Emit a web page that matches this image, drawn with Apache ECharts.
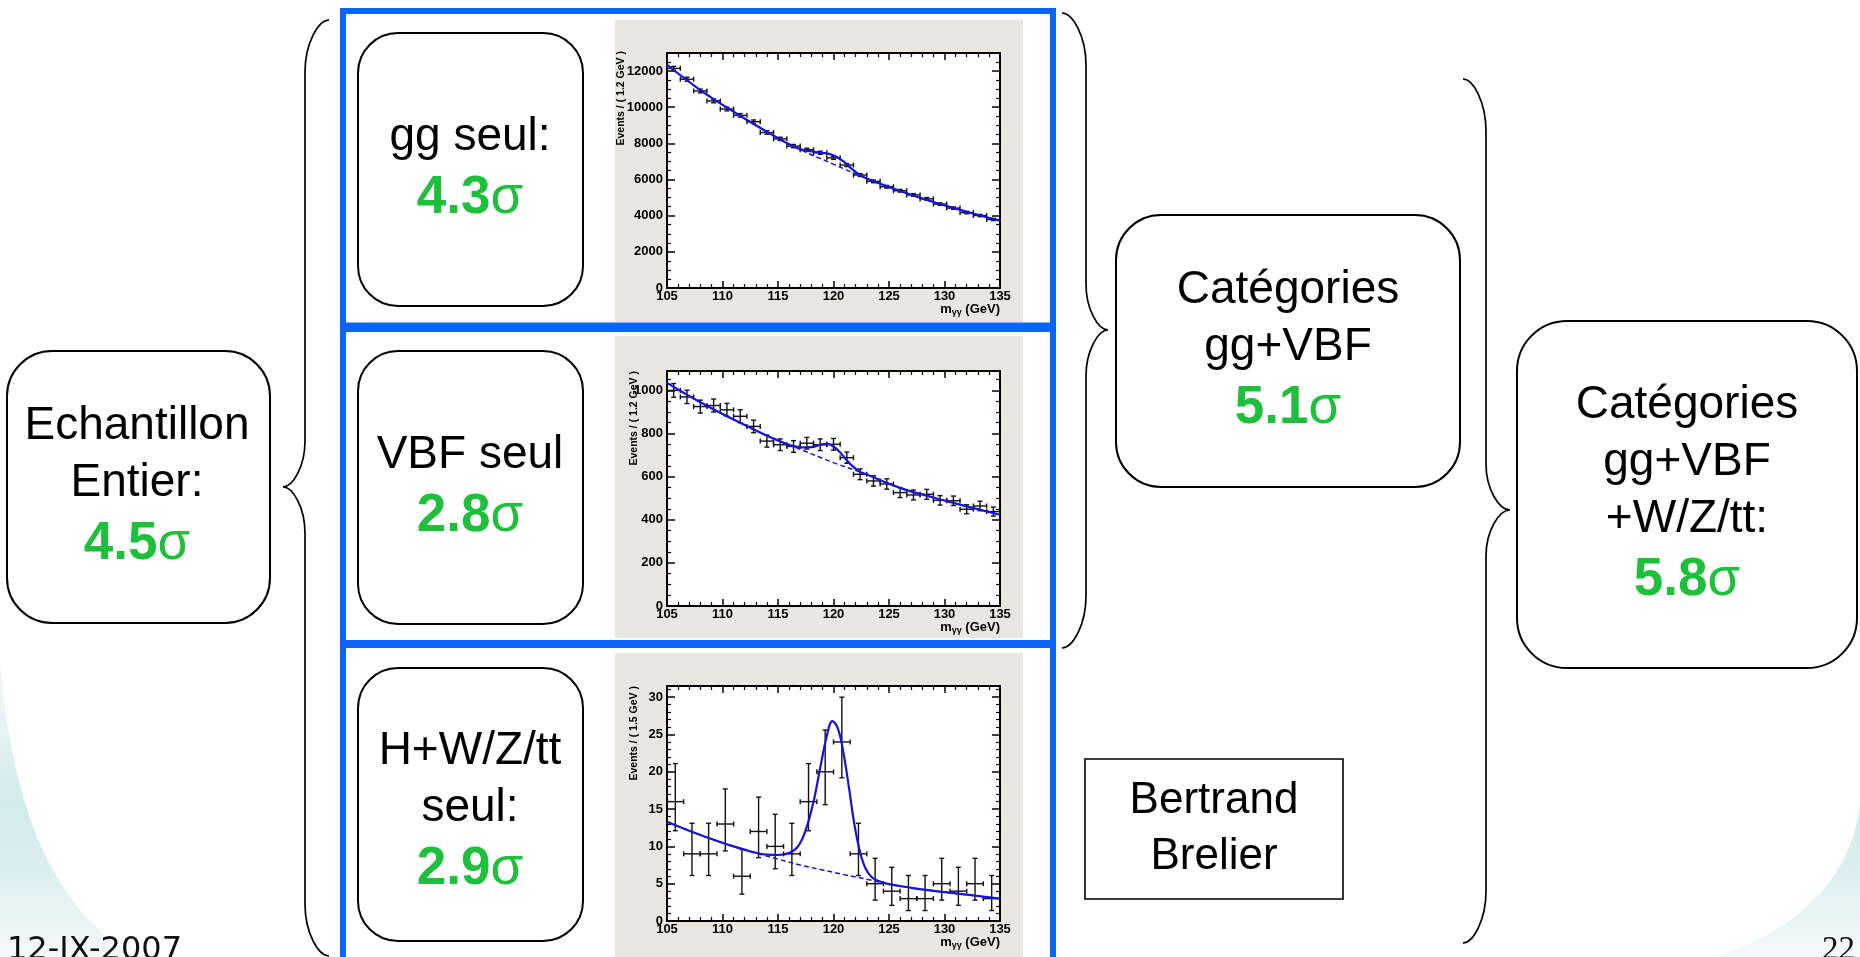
<!DOCTYPE html>
<html>
<head>
<meta charset="utf-8">
<title>Significance H -> gamma gamma</title>
<script src="https://cdn.jsdelivr.net/npm/echarts/dist/echarts.min.js"></script>
<style>
  html, body { margin: 0; padding: 0; background: #fff; overflow: hidden; }
  #main { width: 1860px; height: 957px; }
</style>
</head>
<body>
<div id="main"></div>
<script>
// gg seul : bins de 1.2 GeV
var ggX = [105.6, 106.8, 108.0, 109.2, 110.4, 111.6, 112.8, 114.0, 115.2, 116.4, 117.6, 118.8, 120.0,
           121.2, 122.4, 123.6, 124.8, 126.0, 127.2, 128.4, 129.6, 130.8, 132.0, 133.2, 134.4];
var ggY = [12150, 11550, 10900, 10350, 9900, 9550, 9200, 8600, 8250, 7850, 7650, 7480, 7200,
           6800, 6250, 5900, 5600, 5380, 5150, 4930, 4640, 4420, 4170, 4010, 3790];
var ggErr = [110, 108, 104, 102, 100, 98, 96, 93, 91, 89, 87, 86, 85,
             82, 79, 77, 75, 73, 72, 70, 68, 66, 65, 63, 62];
var ggBkgX = [105, 108, 111, 114, 117, 120, 123, 126, 129, 132, 135];
var ggBkg = [12350, 10950, 9750, 8640, 7660, 6850, 6050, 5370, 4760, 4220, 3720];
var ggTotX = [105, 108, 111, 114, 116, 117, 118, 119, 119.6, 120.3, 121, 121.6, 122.2, 123, 126, 129, 132, 135];
var ggTot = [12350, 10950, 9750, 8640, 7950, 7680, 7560, 7470, 7420, 7250, 6950, 6620, 6330, 6060, 5370, 4760, 4220, 3720];

// VBF seul : bins de 1.2 GeV
var vbfX = ggX.slice();
var vbfY = [1000, 970, 925, 930, 910, 880, 833, 765, 748, 740, 755, 748, 750,
            688, 611, 580, 566, 526, 515, 518, 490, 488, 449, 464, 438];
var vbfErr = [32, 31, 30, 30, 30, 30, 29, 28, 27, 27, 27, 27, 27,
              26, 25, 24, 24, 23, 23, 23, 22, 22, 21, 22, 21];
var vbfBkgX = [105, 108, 111, 114, 117, 120, 123, 126, 129, 132, 135];
var vbfBkg = [1035, 945, 865, 790, 727, 665, 610, 548, 503, 462, 423];
var vbfTotX = [105, 108, 111, 114, 115, 116, 117, 118, 118.8, 119.4, 120, 120.6, 121.2, 121.8, 122.4, 123, 126, 129, 132, 135];
var vbfTot = [1035, 945, 865, 790, 768, 748, 736, 737, 748, 752, 740, 712, 676, 645, 622, 610, 548, 503, 462, 423];

// H+W/Z/tt seul : bins de 1.5 GeV
var ttX = [105.75, 107.25, 108.75, 110.25, 111.75, 113.25, 114.75, 116.25, 117.75, 119.25,
           120.75, 122.25, 123.75, 125.25, 126.75, 128.25, 129.75, 131.25, 132.75, 134.25];
var ttY = [16, 9, 9, 13, 6, 12, 10, 9, 16, 20, 24, 9, 5, 4, 3, 3, 5, 4, 5, 3];
var ttLo = [12.1, 6.1, 6.1, 9.4, 3.6, 8.5, 7.0, 6.1, 12.1, 15.6, 19.2, 6.1, 2.8, 2.1, 1.4, 1.4, 2.8, 2.1, 2.8, 1.4];
var ttHi = [21.1, 13.1, 13.1, 17.7, 9.6, 16.6, 14.3, 13.1, 21.1, 25.6, 30.0, 13.1, 8.4, 7.2, 6.1, 6.1, 8.4, 7.2, 8.4, 6.1];
var ttBkgX = [105, 107, 109, 111, 113, 115, 117, 119, 121, 123, 125, 127, 129, 131, 133, 135];
var ttBkg = [13.3, 12.1, 11.0, 10.0, 9.1, 8.3, 7.5, 6.85, 6.2, 5.6, 4.95, 4.45, 4.05, 3.7, 3.35, 3.0];
var ttTotX = [105, 107, 109, 111, 113, 114, 115, 116, 116.8, 117.5, 118.2, 118.8, 119.4, 119.9, 120.4,
              120.9, 121.4, 121.9, 122.4, 122.9, 123.5, 124.2, 125, 127, 129, 131, 133, 135];
var ttTot = [13.3, 12.1, 11.0, 10.0, 9.15, 8.9, 8.85, 9.1, 10.0, 12.2, 16.0, 20.5, 24.8, 26.8, 25.8,
             22.5, 17.8, 12.8, 9.2, 7.0, 5.8, 5.3, 4.95, 4.45, 4.05, 3.7, 3.35, 3.0];

// axes
var yMax = [13000, 1090, 31.5];
var yStep = [2000, 200, 5];
var yMinor = [4, 4, 5];
var yTitles = ['Events / ( 1.2 GeV )', 'Events / ( 1.2 GeV )', 'Events / ( 1.5 GeV )'];

var GREEN = '#1dbf3b';
var BLUE = '#0a64fa';
var FIT = '#1414dc';

var frameTop = [53, 371, 686];
var frameH = 235;

function pairs(xs, ys) {
  return xs.map(function (x, i) { return [x, ys[i]]; });
}

var panelData = [
  ggX.map(function (x, i) { return [x, ggY[i], 0.6, ggY[i] - ggErr[i], ggY[i] + ggErr[i]]; }),
  vbfX.map(function (x, i) { return [x, vbfY[i], 0.6, vbfY[i] - vbfErr[i], vbfY[i] + vbfErr[i]]; }),
  ttX.map(function (x, i) { return [x, ttY[i], 0.75, ttLo[i], ttHi[i]]; })
];
var bkgData = [pairs(ggBkgX, ggBkg), pairs(vbfBkgX, vbfBkg), pairs(ttBkgX, ttBkg)];
var totData = [pairs(ggTotX, ggTot), pairs(vbfTotX, vbfTot), pairs(ttTotX, ttTot)];

// barres d'erreur style ROOT
function renderErr(params, api) {
  var x = api.value(0), y = api.value(1), xe = api.value(2), lo = api.value(3), hi = api.value(4);
  var l = api.coord([x - xe, y]), r = api.coord([x + xe, y]);
  var b = api.coord([x, lo]), t = api.coord([x, hi]);
  var st = { stroke: '#111', lineWidth: 1.4 };
  var cap = 2.5;
  return {
    type: 'group',
    children: [
      { type: 'line', shape: { x1: l[0], y1: l[1], x2: r[0], y2: r[1] }, style: st },
      { type: 'line', shape: { x1: b[0], y1: b[1], x2: t[0], y2: t[1] }, style: st },
      { type: 'line', shape: { x1: b[0] - cap, y1: b[1], x2: b[0] + cap, y2: b[1] }, style: st },
      { type: 'line', shape: { x1: t[0] - cap, y1: t[1], x2: t[0] + cap, y2: t[1] }, style: st },
      { type: 'line', shape: { x1: l[0], y1: l[1] - cap, x2: l[0], y2: l[1] + cap }, style: st },
      { type: 'line', shape: { x1: r[0], y1: r[1] - cap, x2: r[0], y2: r[1] + cap }, style: st }
    ]
  };
}

var labelFont = { color: '#000', fontWeight: 'bold', fontSize: 13, fontFamily: 'Liberation Sans',
                  formatter: function (v) { return String(v); } };

var grids = [], xAxes = [], yAxes = [], series = [];
for (var i = 0; i < 3; i++) {
  grids.push({ left: 667, top: frameTop[i], width: 333, height: frameH, show: true,
               backgroundColor: '#fff', borderWidth: 0 });
  ['bottom', 'top'].forEach(function (pos) {
    xAxes.push({
      gridIndex: i, type: 'value', position: pos, min: 105, max: 135, interval: 5, z: 3,
      axisLine: { onZero: false, lineStyle: { color: '#000', width: 2 } },
      axisTick: { inside: true, length: 7, lineStyle: { color: '#000', width: 1.5 } },
      minorTick: { show: true, splitNumber: 5, length: 4, lineStyle: { color: '#000', width: 1.2 } },
      axisLabel: pos === 'bottom' ? Object.assign({ margin: 2, lineHeight: 12 }, labelFont) : { show: false },
      splitLine: { show: false }
    });
  });
  ['left', 'right'].forEach(function (pos) {
    yAxes.push({
      gridIndex: i, type: 'value', position: pos, min: 0, max: yMax[i], interval: yStep[i], z: 3,
      axisLine: { onZero: false, lineStyle: { color: '#000', width: 2 } },
      axisTick: { inside: true, length: 8, lineStyle: { color: '#000', width: 1.5 } },
      minorTick: { show: true, splitNumber: yMinor[i], length: 4, lineStyle: { color: '#000', width: 1.2 } },
      axisLabel: pos === 'left' ? Object.assign({ margin: 4, showMaxLabel: false }, labelFont) : { show: false },
      splitLine: { show: false }
    });
  });
  series.push({
    type: 'custom', xAxisIndex: 2 * i, yAxisIndex: 2 * i, z: 4,
    renderItem: renderErr, data: panelData[i]
  });
  series.push({
    type: 'line', xAxisIndex: 2 * i, yAxisIndex: 2 * i, z: 5, smooth: 0.4, showSymbol: false,
    lineStyle: { color: FIT, width: 1.5, type: [5, 3] }, data: bkgData[i]
  });
  series.push({
    type: 'line', xAxisIndex: 2 * i, yAxisIndex: 2 * i, z: 6, smooth: 0.4, showSymbol: false,
    lineStyle: { color: FIT, width: 2.2 }, data: totData[i]
  });
}

// accolades
function brace(endX, lineX, tipX, y0, yTip, y1) {
  var k = 52, kt = 46;
  var e = lineX + (endX - lineX) * 0.55;
  var t = tipX + (lineX - tipX) * 0.45;
  return 'M' + endX + ' ' + y0 +
    ' C' + e + ' ' + y0 + ' ' + lineX + ' ' + (y0 + k * 0.45) + ' ' + lineX + ' ' + (y0 + k) +
    ' L' + lineX + ' ' + (yTip - kt) +
    ' C' + lineX + ' ' + (yTip - kt * 0.45) + ' ' + t + ' ' + yTip + ' ' + tipX + ' ' + yTip +
    ' C' + t + ' ' + yTip + ' ' + lineX + ' ' + (yTip + kt * 0.45) + ' ' + lineX + ' ' + (yTip + kt) +
    ' L' + lineX + ' ' + (y1 - k) +
    ' C' + lineX + ' ' + (y1 - k * 0.45) + ' ' + e + ' ' + y1 + ' ' + endX + ' ' + y1;
}
var bracePaths = [
  brace(329, 305, 283, 20, 487, 956),
  brace(1062, 1086, 1108, 13, 330, 648),
  brace(1463, 1486, 1510, 79, 510, 943)
];

// fond blanc arrondi au-dessus du degrade
series.push({
  type: 'custom', coordinateSystem: 'none', z: -5, silent: true, data: [0],
  renderItem: function () {
    return { type: 'path',
             shape: { pathData: 'M0 0 H1860 V800 C1855 880 1790 935 1712 957 H135 C75 920 15 850 0 660 Z' },
             style: { fill: '#fff' } };
  }
});
series.push({
  type: 'custom', coordinateSystem: 'none', z: 1, silent: true, data: [0],
  renderItem: function () {
    return { type: 'group', children: bracePaths.map(function (d) {
      return { type: 'path', shape: { pathData: d },
               style: { fill: 'none', stroke: '#000', lineWidth: 1.7 } };
    }) };
  }
});

var rich = {
  a: { fontSize: 46, lineHeight: 57, fill: '#000', fontFamily: 'Liberation Sans' },
  g: { fontSize: 53, lineHeight: 64, fill: GREEN, fontWeight: 'bold', fontFamily: 'Liberation Sans' },
  s: { fontSize: 53, lineHeight: 64, fill: GREEN, fontFamily: 'Liberation Sans' }
};
function boxText(cx, cy, lines, sig) {
  var txt = lines.map(function (l) { return '{a|' + l + '}'; }).join('\n');
  if (sig) txt += '\n{g|' + sig + '}{s|σ}';
  return { type: 'text', x: cx, y: cy, z: 2,
           style: { text: txt, rich: rich, align: 'center', verticalAlign: 'middle' } };
}
function rbox(x, y, w, h, r) {
  return { type: 'rect', z: 1, shape: { x: x, y: y, width: w, height: h, r: r },
           style: { fill: 'none', stroke: '#000', lineWidth: 2 } };
}

var graphics = [
  // fond de diapo
  { type: 'rect', z: -6, silent: true, shape: { x: 0, y: 0, width: 1860, height: 957 },
    style: { fill: new echarts.graphic.LinearGradient(0, 0, 0, 1, [
      { offset: 0, color: '#ffffff' },
      { offset: 0.64, color: '#ffffff' },
      { offset: 0.84, color: '#d3eaec' },
      { offset: 0.91, color: '#dcefef' },
      { offset: 1, color: '#f3f9f9' }
    ]) } }
];

// panneaux gris + titres d'axes
var grayTop = [20, 336, 653], grayBot = [322, 638, 957];
var titleX = [621, 634, 634];
for (var p = 0; p < 3; p++) {
  graphics.push({ type: 'rect', z: -4, shape: { x: 615, y: grayTop[p], width: 408, height: grayBot[p] - grayTop[p] },
                  style: { fill: '#e8e6de' } });
  graphics.push({ type: 'text', x: titleX[p], y: frameTop[p] + (p === 0 ? -2 : 0), rotation: Math.PI / 2, z: 2,
                  style: { text: yTitles[p], font: 'bold 10.5px "Liberation Sans"', fill: '#000',
                           align: 'right', verticalAlign: 'middle' } });
  graphics.push({ type: 'text', x: 1000, y: frameTop[p] + frameH + 21, z: 2,
                  style: { text: '{m|m}{s|γγ}{m| (GeV)}', align: 'right', verticalAlign: 'middle',
                           rich: { m: { fontSize: 13, fontWeight: 'bold', fontFamily: 'Liberation Sans', fill: '#000' },
                                   s: { fontSize: 9, fontWeight: 'bold', fontFamily: 'Liberation Sans', fill: '#000',
                                        padding: [7, 0, 0, 0] } } } });
}
// cadre bleu
graphics.push({ type: 'rect', z: -1, shape: { x: 343, y: 11, width: 710, height: 314.5 },
                style: { fill: 'none', stroke: BLUE, lineWidth: 6 } });
graphics.push({ type: 'rect', z: -1, shape: { x: 343, y: 329, width: 710, height: 314 },
                style: { fill: 'none', stroke: BLUE, lineWidth: 6 } });
graphics.push({ type: 'rect', z: -1, shape: { x: 343, y: 645, width: 710, height: 330 },
                style: { fill: 'none', stroke: BLUE, lineWidth: 6 } });

// boites
graphics.push(rbox(7, 351, 263, 272, 45));
graphics.push(boxText(137, 487, ['Echantillon', 'Entier:'], '4.5'));
graphics.push(rbox(358, 33, 225, 273, 40));
graphics.push(boxText(470, 169.5, ['gg seul:'], '4.3'));
graphics.push(rbox(358, 351, 225, 273, 40));
graphics.push(boxText(470, 487.5, ['VBF seul'], '2.8'));
graphics.push(rbox(358, 668, 225, 273, 40));
graphics.push(boxText(470, 812, ['H+W/Z/tt', 'seul:'], '2.9'));
graphics.push(rbox(1116, 215, 344, 272, 45));
graphics.push(boxText(1288, 351, ['Catégories', 'gg+VBF'], '5.1'));
graphics.push(rbox(1517, 321, 340, 347, 50));
graphics.push(boxText(1687, 494.5, ['Catégories', 'gg+VBF', '+W/Z/tt:'], '5.8'));
graphics.push({ type: 'rect', z: 1, shape: { x: 1085, y: 759, width: 258, height: 140 },
                style: { fill: 'none', stroke: '#000', lineWidth: 1.6 } });
graphics.push({ type: 'text', x: 1214, y: 829, z: 2,
                style: { text: 'Bertrand\nBrelier', font: '44px "Liberation Sans"', lineHeight: 56,
                         fill: '#000', align: 'center', verticalAlign: 'middle' } });

// pied de page
graphics.push({ type: 'text', x: 7, y: 951, z: 2,
                style: { text: '12-IX-2007', font: '32px "DejaVu Sans"', fill: '#111',
                         align: 'left', verticalAlign: 'middle' } });
graphics.push({ type: 'text', x: 1822, y: 950, z: 2,
                style: { text: '22', font: '33px "Liberation Serif"', fill: '#111',
                         align: 'left', verticalAlign: 'middle' } });

var myChart = echarts.init(document.getElementById('main'));
myChart.setOption({
  animation: false,
  backgroundColor: '#fff',
  grid: grids,
  xAxis: xAxes,
  yAxis: yAxes,
  series: series,
  graphic: { elements: graphics }
});
</script>
</body>
</html>
